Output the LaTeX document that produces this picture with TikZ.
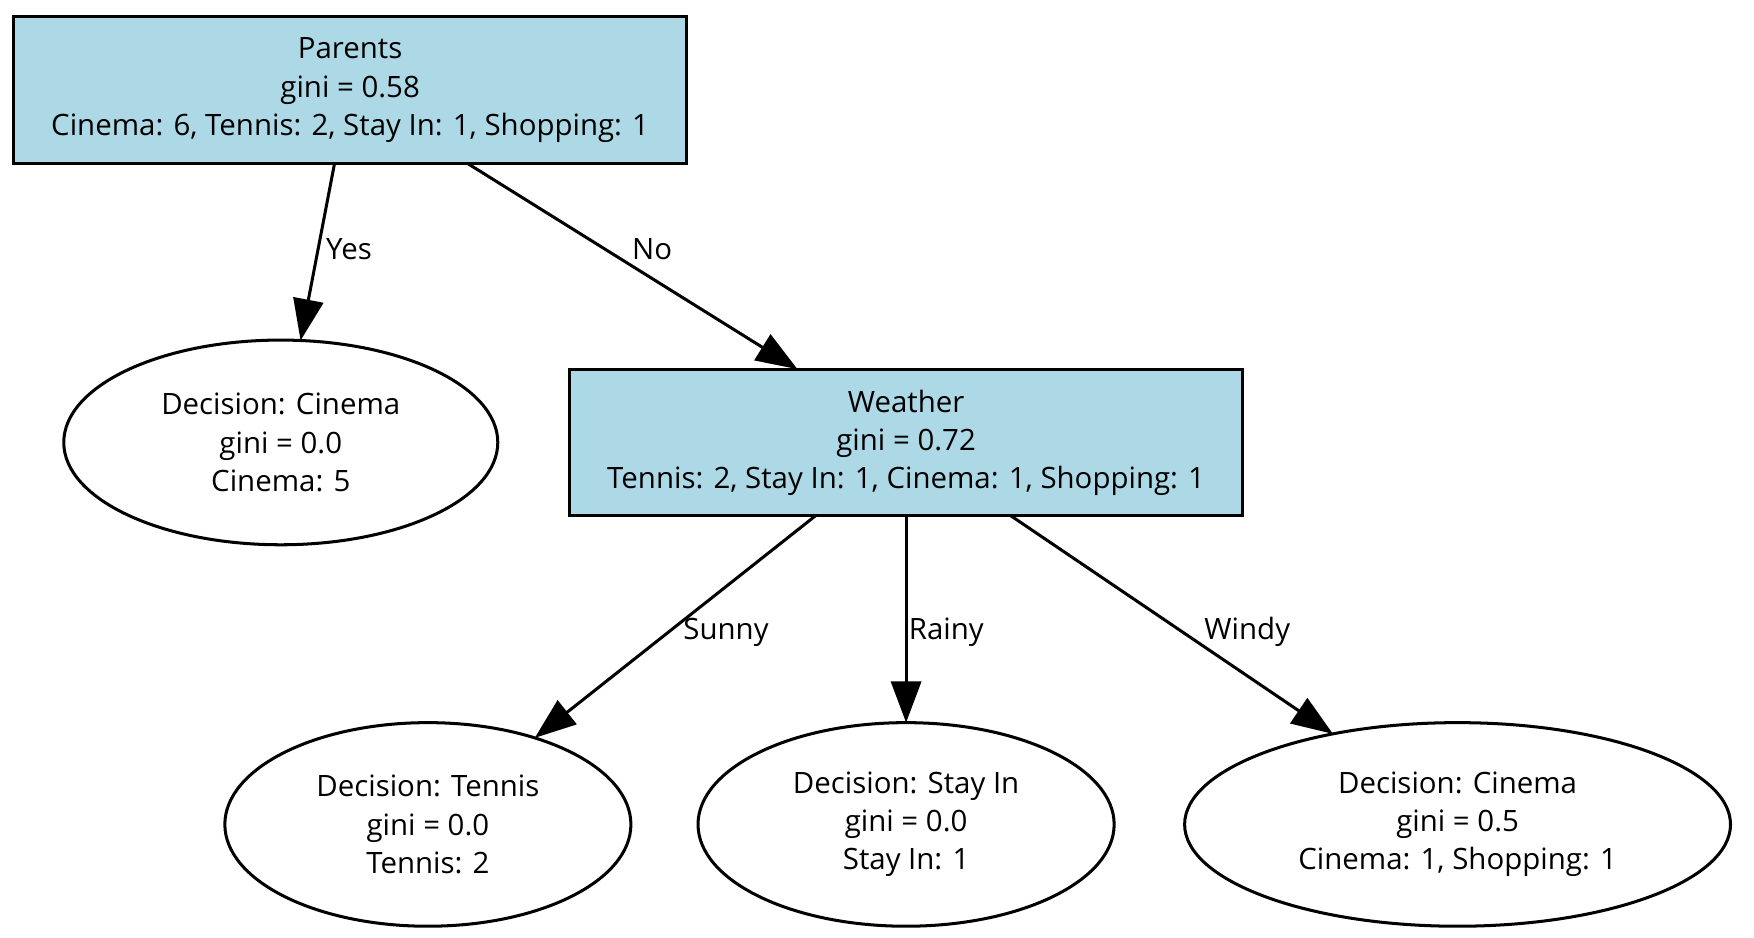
\documentclass[tikz,border=0pt]{standalone}
\usepackage{fontspec}
\setmainfont{Open Sans}
\usetikzlibrary{shapes.geometric,arrows.meta}
\definecolor{boxblue}{HTML}{ADD8E6}
\begin{document}
\begin{tikzpicture}[x=1pt,y=-1pt,
  every node/.style={font=\fontsize{26.3}{34}\selectfont, align=center},
  splitbox/.style={draw, line width=2.7pt, fill=boxblue, rectangle, minimum width=602pt, minimum height=131pt, inner sep=0pt, outer sep=0pt},
  leaf/.style={draw, line width=2.7pt, ellipse, inner sep=0pt, outer sep=0pt},
  edge/.style={line width=2.7pt, -{Triangle[length=37pt,width=27pt]}},
  elabel/.style={inner sep=0pt}]
\useasboundingbox (0,0) rectangle (1568,838.5);
\node[splitbox] (parents) at (313,80.5) {Parents\\gini = 0.58\\Cinema: 6, Tennis: 2, Stay In: 1, Shopping: 1};
\node[leaf, minimum width=388pt, minimum height=183pt] (c1) at (251,395.5) {Decision: Cinema\\gini = 0.0\\Cinema: 5};
\node[splitbox] (weather) at (810,395.5) {Weather\\gini = 0.72\\Tennis: 2, Stay In: 1, Cinema: 1, Shopping: 1};
\node[leaf, minimum width=363pt, minimum height=182pt] (tennis) at (382.5,737) {Decision: Tennis\\gini = 0.0\\Tennis: 2};
\node[leaf, minimum width=372pt, minimum height=182pt] (stayin) at (810,737) {Decision: Stay In\\gini = 0.0\\Stay In: 1};
\node[leaf, minimum width=488pt, minimum height=182pt] (c2) at (1303,737) {Decision: Cinema\\gini = 0.5\\Cinema: 1, Shopping: 1};
\draw[edge] (parents.258.8) -- (c1.79.7);
\draw[edge] (parents.-32.7) -- (weather.146.2);
\draw[edge] (weather.219.3) -- (tennis.39.6);
\draw[edge] (weather.south) -- (stayin.north);
\draw[edge] (weather.-35.5) -- (c2.144.7);
\node[elabel] (lyes) at (312,223) {Yes};
\node[elabel] (lno) at (583,223) {No};
\node[elabel] (lsunny) at (649,565) {Sunny};
\node[elabel] (lrainy) at (846,565) {Rainy};
\node[elabel] (lwindy) at (1115,565) {Windy};
\end{tikzpicture}
\end{document}
